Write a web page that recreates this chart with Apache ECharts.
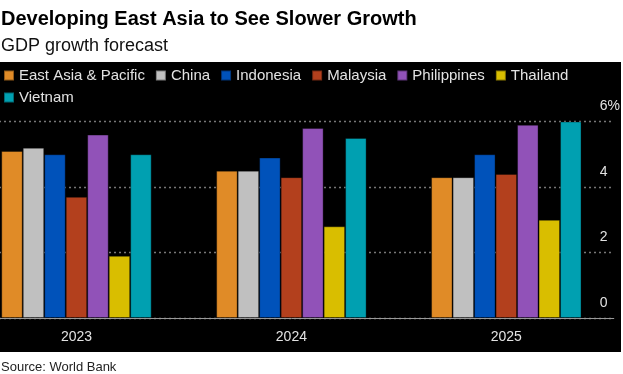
<!DOCTYPE html>
<html><head><meta charset="utf-8">
<script src="https://cdn.jsdelivr.net/npm/echarts@6/dist/echarts.min.js"></script>
<style>html,body{margin:0;padding:0;background:#fff;overflow:hidden;width:623px;height:374px;position:relative;}
#c{position:absolute;left:-31px;top:0;width:654px;height:374px;}</style>
</head><body><div id="c"></div>
<script>
const categories = ['2023', '2024', '2025'];
const seriesNames = ['East Asia & Pacific', 'China', 'Indonesia', 'Malaysia', 'Philippines', 'Thailand', 'Vietnam'];
const eastAsiaPacific = [5.1, 4.5, 4.3];
const china = [5.2, 4.5, 4.3];
const indonesia = [5.0, 4.9, 5.0];
const malaysia = [3.7, 4.3, 4.4];
const philippines = [5.6, 5.8, 5.9];
const thailand = [1.9, 2.8, 3.0];
const vietnam = [5.0, 5.5, 6.0];
const yTicks = [0, 2, 4, 6];
const colors = ['#E08B27', '#C0C0C0', '#0052BA', '#B3401D', '#9152B8', '#D9BE00', '#00A0B1'];
const values = [eastAsiaPacific, china, indonesia, malaysia, philippines, thailand, vietnam];

const OX = 31; // container offset
const font = '"Liberation Sans", Arial, sans-serif';
const chart = echarts.init(document.getElementById('c'));
const legendText = { color: '#e2e2e2', fontSize: 15, fontFamily: font };
chart.setOption({
  animation: false,
  backgroundColor: '#fff',
  graphic: [
    { type: 'rect', shape: { x: OX, y: 62, width: 621, height: 290 }, style: { fill: '#000' }, z: -10 },
    { type: 'text', left: OX + 1, top: 9, style: { text: 'Developing East Asia to See Slower Growth', font: 'bold 20px ' + font, fill: '#000' } },
    { type: 'text', left: OX + 1, top: 37, style: { text: 'GDP growth forecast', font: '18px ' + font, fill: '#111' } },
    { type: 'text', left: OX + 1, top: 361, style: { text: 'Source: World Bank', font: '13px ' + font, fill: '#222' } }
  ],
  legend: [
    {
      left: OX + 3, top: 68, padding: 0, itemWidth: 10, itemHeight: 10, itemGap: 10, icon: 'rect',
      textStyle: legendText, data: seriesNames.slice(0, 6)
    },
    {
      left: OX + 3, top: 90, padding: 0, itemWidth: 10, itemHeight: 10, itemGap: 10, icon: 'rect',
      textStyle: legendText, data: seriesNames.slice(6)
    }
  ],
  grid: { left: 0, right: 6, top: 121.5, bottom: 56, containLabel: false },
  xAxis: {
    type: 'category', data: categories,
    axisLine: { lineStyle: { color: '#999', width: 1 } },
    axisTick: { alignWithLabel: true, length: 5, lineStyle: { color: '#999' } },
    axisLabel: { color: '#e2e2e2', fontSize: 14, fontFamily: font, margin: 12 }
  },
  yAxis: {
    type: 'value', position: 'right', min: yTicks[0], max: yTicks[yTicks.length - 1], interval: 2,
    axisLine: { show: false }, axisTick: { show: false },
    splitLine: { lineStyle: { color: '#777', type: [2, 3], width: 1.3 } },
    axisLabel: {
      inside: true, align: 'left', margin: 14, verticalAlign: 'bottom', padding: [0, 0, 8, 0],
      color: '#e2e2e2', fontSize: 14, fontFamily: font,
      formatter: v => v === 6 ? '6%' : String(v)
    }
  },
  series: seriesNames.map((n, i) => ({
    name: n, type: 'bar', data: values[i],
    barGap: '0%', barCategoryGap: '30%',
    itemStyle: { color: colors[i], borderColor: 'rgba(0,0,0,0.35)', borderWidth: 1 }
  }))
});
</script></body></html>
